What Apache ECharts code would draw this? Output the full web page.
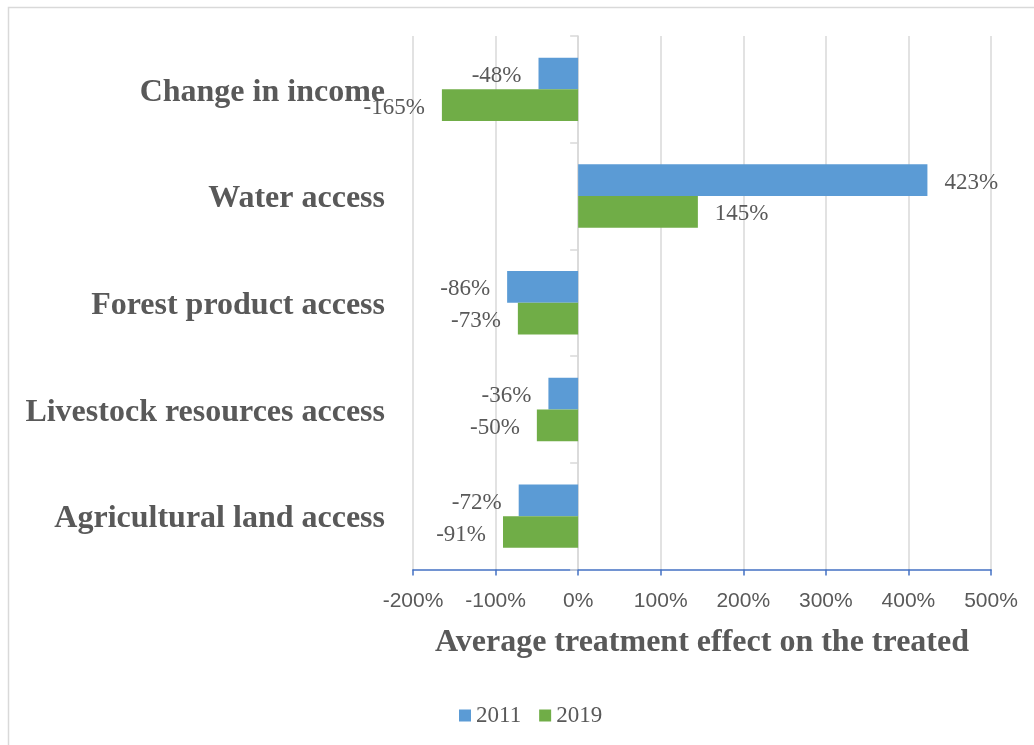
<!DOCTYPE html>
<html>
<head>
<meta charset="utf-8">
<title>Average treatment effect on the treated</title>
<script src="https://cdn.jsdelivr.net/npm/echarts@6/dist/echarts.min.js"></script>
<style>
  html, body { margin: 0; padding: 0; background: #ffffff; }
  #chart { width: 1034px; height: 745px; }
</style>
</head>
<body>
<div id="chart"></div>
<script>
// Outcome categories, top to bottom
const categories = [
  'Change in income',
  'Water access',
  'Forest product access',
  'Livestock resources access',
  'Agricultural land access'
];

// Treatment effect (%) per outcome
const effect2011 = [-48, 423, -86, -36, -72];
const effect2019 = [-165, 145, -73, -50, -91];

const seriesNames = ['2011', '2019'];
const axisMin = -200;
const axisMax = 500;
const axisStep = 100;

const SERIF = '"Liberation Serif", "Times New Roman", serif';
const SANS = '"Liberation Sans", Arial, sans-serif';
const GREY_TEXT = '#595959';
const GRID_GREY = '#d9d9d9';

// Put labels outside the bar end: left for negative bars, right for positive ones
function withLabels(values) {
  return values.map(v => ({
    value: v,
    label: { position: v < 0 ? 'left' : 'right' }
  }));
}

const labelStyle = {
  show: true,
  distance: 17,
  offset: [0, 2.5],
  formatter: p => p.value + '%',
  fontFamily: SERIF,
  fontSize: 23,
  color: GREY_TEXT
};

const chart = echarts.init(document.getElementById('chart'), null, { renderer: 'canvas' });

chart.setOption({
  animation: false,
  backgroundColor: '#ffffff',
  graphic: [{
    type: 'rect',
    shape: { x: 8.5, y: 7.5, width: 1060, height: 780 },
    style: { fill: 'none', stroke: GRID_GREY, lineWidth: 1.5 },
    silent: true
  }],
  grid: { left: 413, right: 43, top: 36, bottom: 175.5, containLabel: false },
  legend: {
    data: seriesNames,
    left: 454,
    top: 699,
    icon: 'rect',
    itemWidth: 12,
    itemHeight: 12,
    itemGap: 18,
    textStyle: { fontFamily: SERIF, fontSize: 23, color: GREY_TEXT }
  },
  xAxis: {
    type: 'value',
    min: axisMin,
    max: axisMax,
    interval: axisStep,
    name: 'Average treatment effect on the treated',
    nameLocation: 'middle',
    nameGap: 57,
    nameTextStyle: { fontFamily: SERIF, fontSize: 32, fontWeight: 'bold', color: GREY_TEXT },
    axisLine: { show: true, lineStyle: { color: '#4472C4', width: 1.5 } },
    axisTick: { show: true, length: 6, lineStyle: { color: '#4472C4', width: 1.5 } },
    axisLabel: { formatter: '{value}%', fontFamily: SANS, fontSize: 21, color: GREY_TEXT, margin: 21 },
    splitLine: { show: true, lineStyle: { color: GRID_GREY, width: 1.5 } }
  },
  yAxis: [
    {
      // Category labels on the left edge of the plot
      type: 'category',
      data: categories,
      inverse: true,
      position: 'left',
      axisLine: { show: false, onZero: false },
      axisTick: { show: false },
      axisLabel: {
        margin: 28,
        formatter: v => '{cat|' + v + '}',
        rich: {
          cat: {
            fontFamily: SERIF, fontSize: 32, fontWeight: 'bold', color: GREY_TEXT,
            padding: [6, 0, 0, 0]
          }
        }
      }
    },
    {
      // Vertical axis line crossing at 0%
      type: 'category',
      data: categories,
      inverse: true,
      position: 'left',
      axisLine: { show: true, onZero: true, lineStyle: { color: GRID_GREY, width: 1.5 } },
      axisTick: { show: true, length: 8, lineStyle: { color: GRID_GREY, width: 1.5 } },
      axisLabel: { show: false }
    }
  ],
  series: [
    {
      name: seriesNames[0],
      type: 'bar',
      yAxisIndex: 0,
      data: withLabels(effect2011),
      itemStyle: { color: '#5B9BD5' },
      barGap: '0%',
      barCategoryGap: '40.6%',
      label: labelStyle
    },
    {
      name: seriesNames[1],
      type: 'bar',
      yAxisIndex: 0,
      data: withLabels(effect2019),
      itemStyle: { color: '#70AD47' },
      barGap: '0%',
      barCategoryGap: '40.6%',
      label: labelStyle
    }
  ]
});
</script>
</body>
</html>
